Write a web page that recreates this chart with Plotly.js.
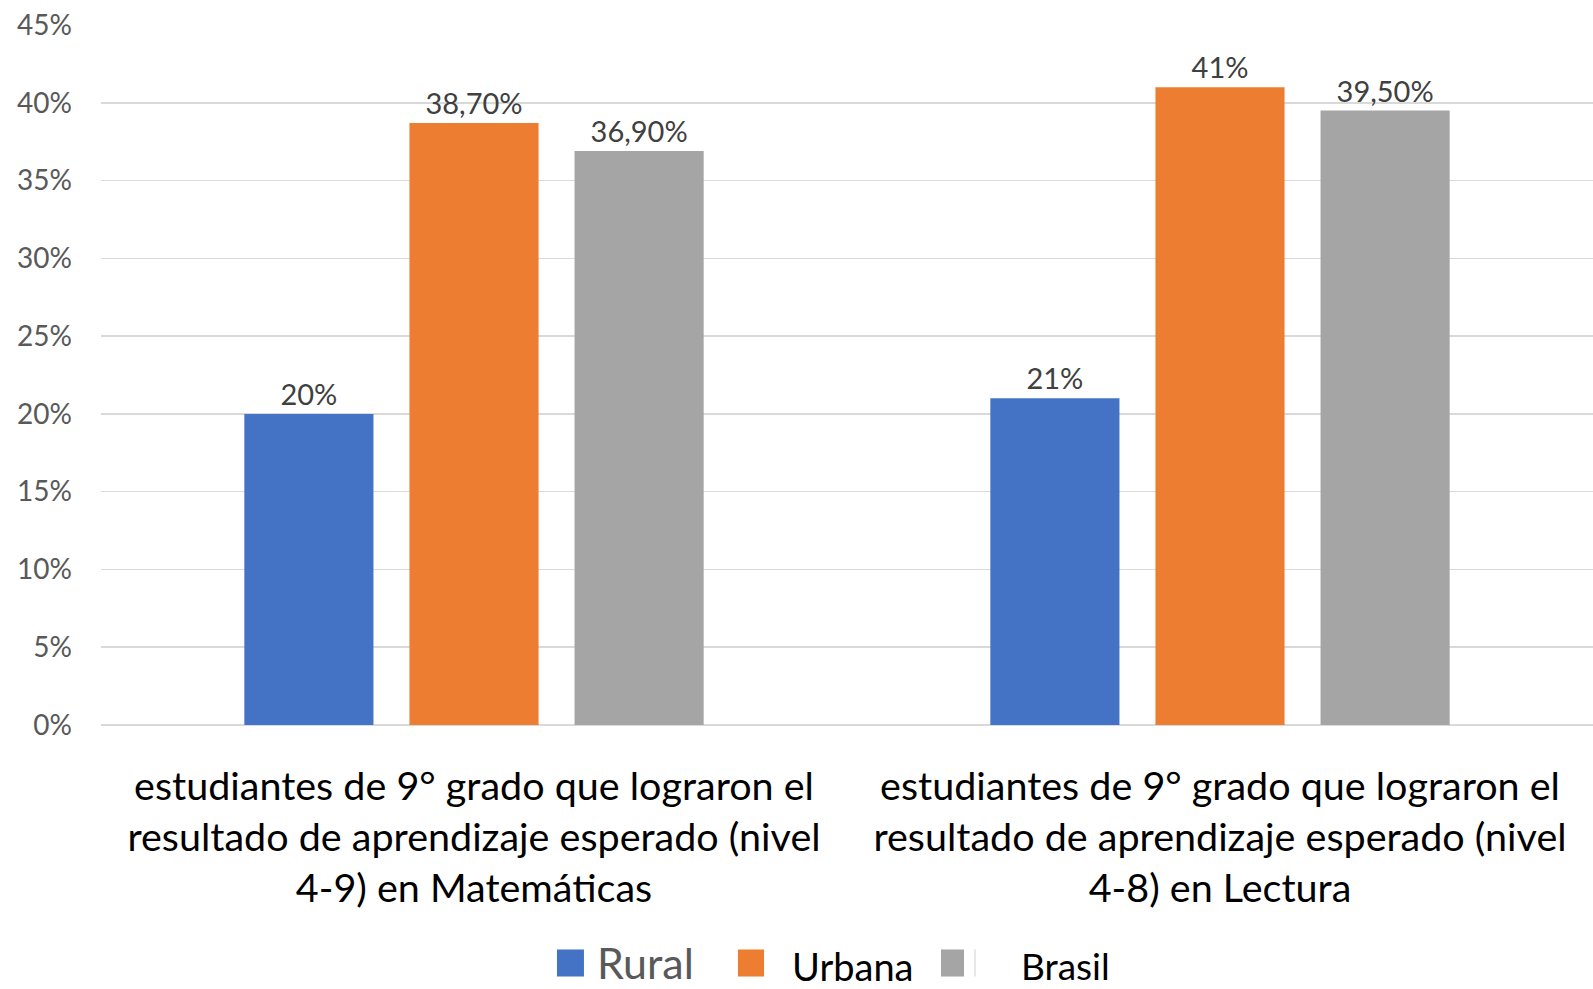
<!DOCTYPE html>
<html>
<head>
<meta charset="utf-8">
<script src="https://cdn.plot.ly/plotly-3.0.1.min.js"></script>
<style>html,body{margin:0;padding:0;background:#fff;}#chart{width:1593px;height:989px;}</style>
</head>
<body>
<div id="chart"></div>
<script>
const categories = [
  "estudiantes de 9° grado que lograron el<br>resultado de aprendizaje esperado (nivel<br>4-9) en Matemáticas",
  "estudiantes de 9° grado que lograron el<br>resultado de aprendizaje esperado (nivel<br>4-8) en Lectura"
];
const seriesNames = ["Rural", "Urbana", "Brasil"];
const rural = [20, 21];
const urbana = [38.7, 41];
const brasil = [36.9, 39.5];
const colors = ["#4472C4", "#ED7D31", "#A5A5A5"];
const yTickVals = [0, 5, 10, 15, 20, 25, 30, 35, 40, 45];
const yTickText = ["0%", "5%", "10%", "15%", "20%", "25%", "30%", "35%", "40%", "45%"];

function fmt(v) {
  return Number.isInteger(v) ? v + "%" : v.toFixed(2).replace(".", ",") + "%";
}

const FONT = "Lato, 'Open Sans', sans-serif";
const series = [rural, urbana, brasil];
const traces = series.map((vals, i) => ({
  type: "bar",
  name: seriesNames[i],
  x: categories,
  y: vals,
  text: vals.map(fmt),
  textposition: "outside",
  textfont: {family: FONT, size: 29, color: "#404040"},
  marker: {color: colors[i]},
  cliponaxis: false,
  hoverinfo: "none"
}));

const layout = {
  width: 1593,
  height: 989,
  margin: {l: 101, r: 0, t: 25, b: 264, pad: 0},
  paper_bgcolor: "#ffffff",
  plot_bgcolor: "#ffffff",
  barmode: "group",
  bargap: 0.336,
  bargroupgap: 0.218,
  showlegend: false,
  font: {family: FONT},
  xaxis: {
    type: "category",
    tickfont: {family: FONT, size: 39.5, color: "#000000"},
    showgrid: false,
    showline: false,
    zeroline: false,
    ticks: "",
    ticklabelstandoff: 34
  },
  yaxis: {
    range: [0, 45],
    tickvals: yTickVals,
    ticktext: yTickText,
    tickfont: {family: FONT, size: 28, color: "#595959"},
    showgrid: true,
    gridcolor: "#d9d9d9",
    gridwidth: 1.5,
    zeroline: true,
    zerolinecolor: "#d9d9d9",
    zerolinewidth: 1.5,
    showline: false,
    ticks: "",
    ticklabelstandoff: 28
  },
  shapes: [
    {type: "rect", xref: "paper", yref: "paper", x0: 0.3056, x1: 0.3237, y0: -0.3593, y1: -0.3207, fillcolor: colors[0], line: {width: 0}},
    {type: "rect", xref: "paper", yref: "paper", x0: 0.4269, x1: 0.4444, y0: -0.3593, y1: -0.3207, fillcolor: colors[1], line: {width: 0}},
    {type: "rect", xref: "paper", yref: "paper", x0: 0.5630, x1: 0.5784, y0: -0.3593, y1: -0.3207, fillcolor: colors[2], line: {width: 0}},
    {type: "line", xref: "paper", yref: "paper", x0: 0.5858, x1: 0.5858, y0: -0.3593, y1: -0.3207, line: {color: "#cfcfcf", width: 1}}
  ],
  annotations: [
    {xref: "paper", yref: "paper", x: 0.3310, y: -0.3393, xanchor: "left", yanchor: "middle", showarrow: false, text: seriesNames[0], font: {family: FONT, size: 43, color: "#595959"}},
    {xref: "paper", yref: "paper", x: 0.4615, y: -0.3440, xanchor: "left", yanchor: "middle", showarrow: false, text: seriesNames[1], font: {family: FONT, size: 38, color: "#000000"}},
    {xref: "paper", yref: "paper", x: 0.6153, y: -0.3430, xanchor: "left", yanchor: "middle", showarrow: false, text: seriesNames[2], font: {family: FONT, size: 37, color: "#000000"}}
  ]
};

Plotly.newPlot("chart", traces, layout, {displayModeBar: false, staticPlot: true});
</script>
</body>
</html>
